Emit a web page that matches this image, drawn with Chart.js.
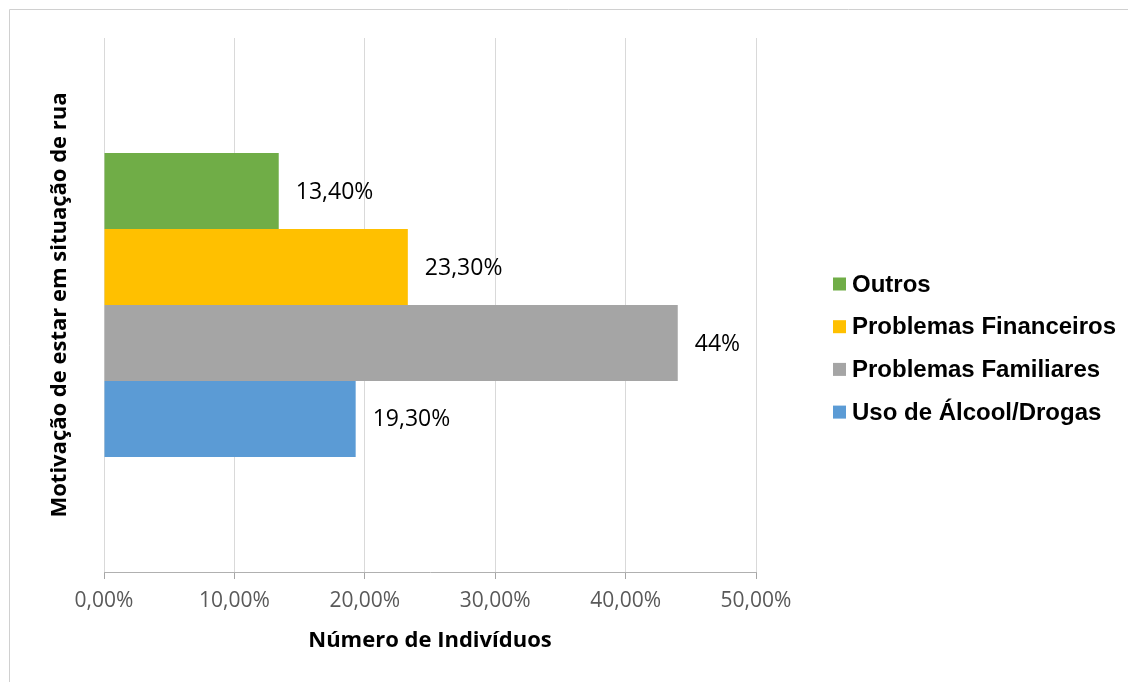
<!DOCTYPE html>
<html lang="pt">
<head>
<meta charset="utf-8">
<title>Motivação de estar em situação de rua</title>
<script src="https://cdn.jsdelivr.net/npm/chart.js@4/dist/chart.umd.min.js"></script>
<style>
  html, body { margin: 0; padding: 0; background: #fff; overflow: hidden; }
  #grafico { display: block; }
</style>
</head>
<body>
<canvas id="grafico" width="1128" height="682"></canvas>
<script>
'use strict';

// ===== DADOS =====
const categorias = [''];
const series = ['Outros', 'Problemas Financeiros', 'Problemas Familiares', 'Uso de Álcool/Drogas'];
const valores = [13.4, 23.3, 44, 19.3];
const rotulos = ['13,40%', '23,30%', '44%', '19,30%'];
const cores = ['#70ad47', '#ffc000', '#a5a5a5', '#5b9bd5'];
const ticksX = [0, 10, 20, 30, 40, 50];

// ===== MOLDURA (borda cinza do gráfico) =====
const moldura = {
    id: 'moldura',
    beforeDraw: function(chart) {
        const ctx = chart.ctx;
        ctx.save();
        ctx.fillStyle = '#fff';
        ctx.fillRect(0, 0, chart.width, chart.height);
        ctx.strokeStyle = '#d0d0d0';
        ctx.lineWidth = 1;
        ctx.beginPath();
        ctx.moveTo(9.5, chart.height);
        ctx.lineTo(9.5, 9.5);
        ctx.lineTo(chart.width, 9.5);
        ctx.stroke();
        ctx.restore();
    }
};

// ===== RÓTULOS DE DADOS =====
const rotulosDados = {
    id: 'rotulosDados',
    afterDatasetsDraw: function(chart) {
        const ctx = chart.ctx;
        ctx.save();
        ctx.font = '23px "Open Sans"';
        ctx.fillStyle = '#000';
        ctx.textBaseline = 'middle';
        ctx.textAlign = 'left';
        chart.data.datasets.forEach(function(ds, i) {
            const meta = chart.getDatasetMeta(i);
            meta.data.forEach(function(bar) {
                ctx.fillText(rotulos[i], bar.x + 17, bar.y + 1);
            });
        });
        ctx.restore();
    }
};

// ===== LEGENDA =====
const legenda = {
    id: 'legenda',
    afterDraw: function(chart) {
        const ctx = chart.ctx;
        ctx.save();
        ctx.font = 'bold 24px "Liberation Sans"';
        ctx.textBaseline = 'middle';
        ctx.textAlign = 'left';
        chart.data.datasets.forEach(function(ds, i) {
            const y = 284 + i * 42.7;
            ctx.fillStyle = ds.backgroundColor;
            ctx.fillRect(833, y - 6.5, 13, 13);
            ctx.fillStyle = '#000';
            ctx.fillText(ds.label, 852, y + 1);
        });
        ctx.restore();
    }
};

const datasets = series.map(function(nome, i) {
    return {
        label: nome,
        data: [valores[i]],
        backgroundColor: cores[i],
        borderWidth: 0,
        categoryPercentage: 0.569,
        barPercentage: 1
    };
});

new Chart(document.getElementById('grafico'), {
    type: 'bar',
    data: { labels: categorias, datasets: datasets },
    plugins: [moldura, rotulosDados, legenda],
    options: {
        indexAxis: 'y',
        responsive: false,
        animation: false,
        layout: { padding: { top: 38, left: 9, right: 372, bottom: 0 } },
        plugins: {
            legend: { display: false },
            tooltip: { enabled: false }
        },
        scales: {
            x: {
                min: 0,
                max: 50,
                afterBuildTicks: function(s) {
                    s.ticks = ticksX.map(function(v) { return { value: v }; });
                },
                afterFit: function(s) { s.height = 110; },
                grid: { color: '#d9d9d9', lineWidth: 1, tickColor: '#a6a6a6', tickLength: 7 },
                border: { display: true, color: '#b0b0b0', width: 1 },
                ticks: {
                    padding: 9,
                    color: '#595959',
                    font: { family: 'Open Sans', size: 21 },
                    callback: function(v) { return v.toFixed(2).replace('.', ',') + '%'; }
                },
                title: {
                    display: true,
                    text: 'Número de Indivíduos',
                    color: '#000',
                    font: { family: 'Open Sans', size: 22, weight: 'bold' },
                    padding: { top: 0, bottom: 28 }
                }
            },
            y: {
                afterFit: function(s) { s.width = 95; },
                grid: { display: false },
                border: { display: false },
                ticks: { display: false },
                title: {
                    display: true,
                    text: 'Motivação de estar em situação de rua',
                    color: '#000',
                    font: { family: 'Open Sans', size: 22, weight: 'bold' },
                    padding: { top: 38, bottom: 0 }
                }
            }
        }
    }
});
</script>
</body>
</html>
